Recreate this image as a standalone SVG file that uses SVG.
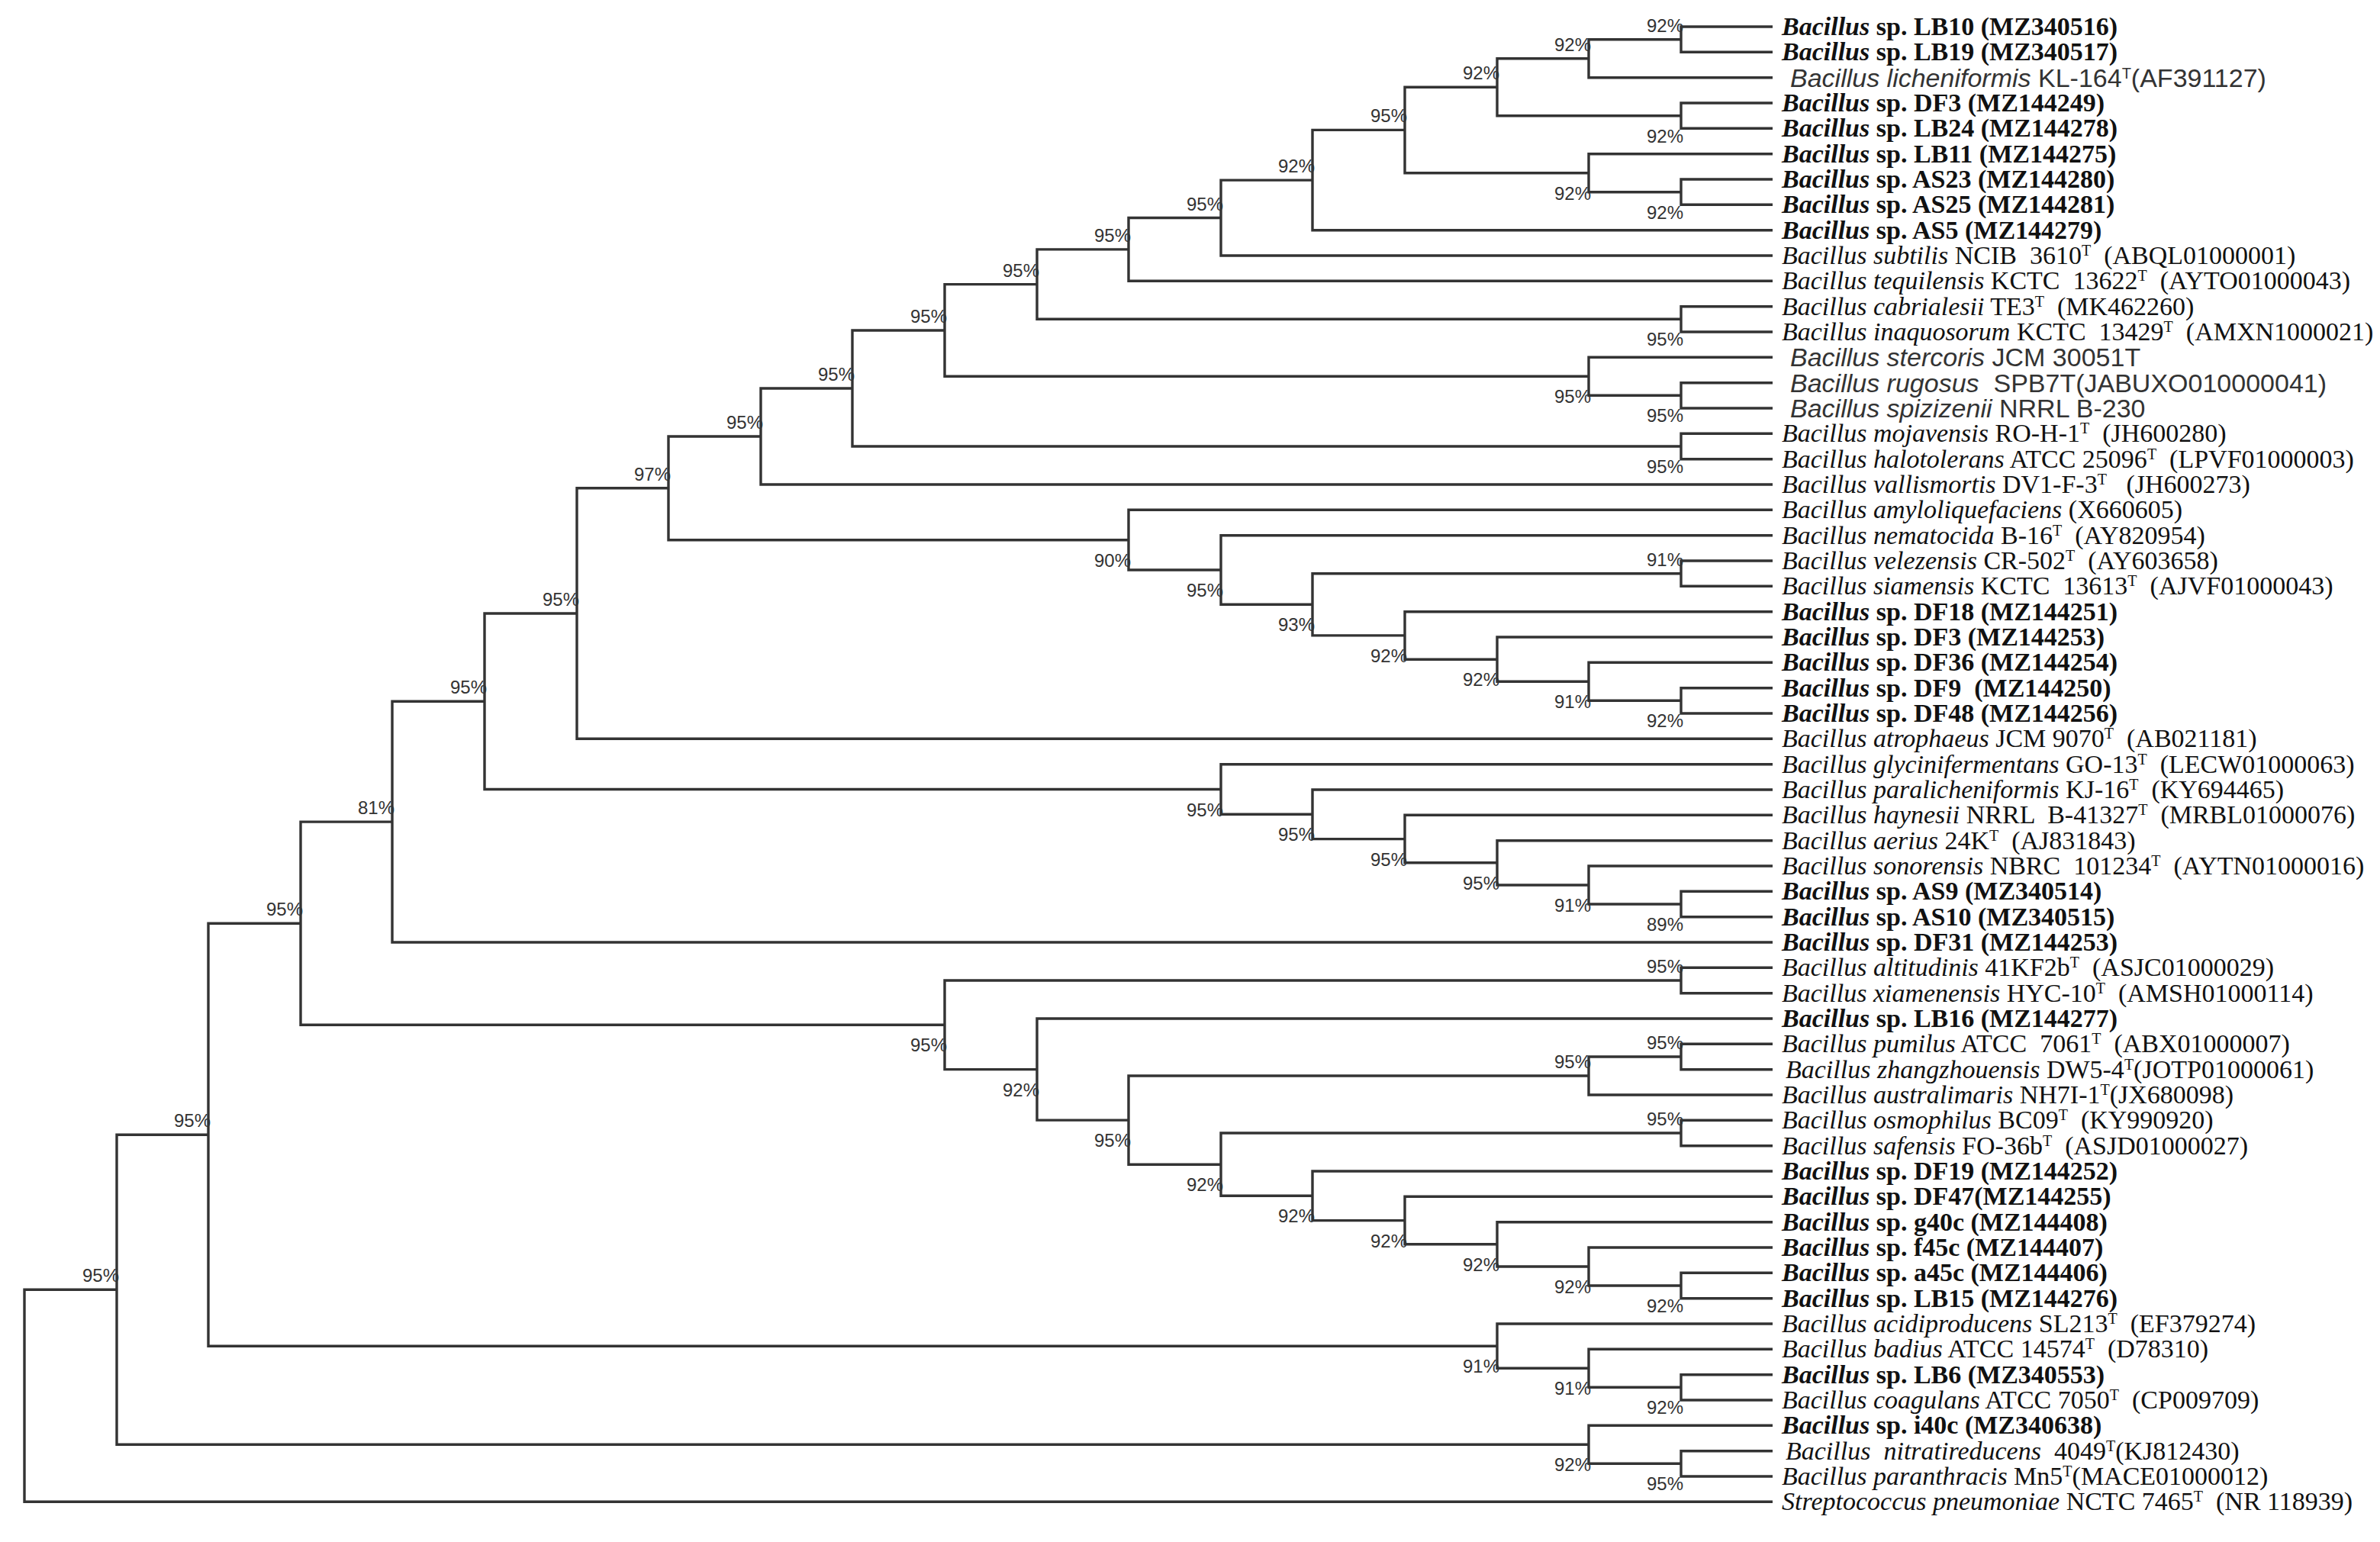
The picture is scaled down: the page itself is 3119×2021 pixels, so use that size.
<svg xmlns="http://www.w3.org/2000/svg" width="3119" height="2021" viewBox="0 0 3119 2021">
<style>
.br{fill:none;stroke:#333;stroke-width:3.4;stroke-linejoin:miter}
.bs{font-family:"Liberation Sans","DejaVu Sans",sans-serif;font-size:24px;fill:#333;text-anchor:end}
.t{font-family:"Liberation Serif","Times New Roman",serif;font-size:34px;fill:#111;white-space:pre}
.bd{font-weight:bold}
.it{font-style:italic}
.sn{font-family:"Liberation Sans",Arial,sans-serif;font-size:34px;fill:#333}
.sup{font-size:20px}
</style>
<rect width="3119" height="2021" fill="#fff"/>
<g id="connectors" class="br">
<path d="M2323 35H2203V68.3H2323"/>
<path d="M2203 51.7H2082V101.7H2323"/>
<path d="M2323 135H2203V168.3H2323"/>
<path d="M2082 76.7H1962V151.7H2203"/>
<path d="M2323 235H2203V268.3H2323"/>
<path d="M2323 201.7H2082V251.7H2203"/>
<path d="M1962 114.2H1841V226.7H2082"/>
<path d="M1841 170.4H1720V301.7H2323"/>
<path d="M1720 236.1H1600V335H2323"/>
<path d="M1600 285.5H1479V368.3H2323"/>
<path d="M2323 401.7H2203V435H2323"/>
<path d="M1479 326.9H1359V418.3H2203"/>
<path d="M2323 501.7H2203V535H2323"/>
<path d="M2323 468.3H2082V518.3H2203"/>
<path d="M1359 372.6H1238V493.3H2082"/>
<path d="M2323 568.3H2203V601.7H2323"/>
<path d="M1238 433H1117V585H2203"/>
<path d="M1117 509H997V635H2323"/>
<path d="M2323 735H2203V768.3H2323"/>
<path d="M2323 901.7H2203V935H2323"/>
<path d="M2323 868.3H2082V918.3H2203"/>
<path d="M2323 835H1962V893.3H2082"/>
<path d="M2323 801.7H1841V864.2H1962"/>
<path d="M2203 751.7H1720V832.9H1841"/>
<path d="M2323 701.7H1600V792.3H1720"/>
<path d="M2323 668.3H1479V747H1600"/>
<path d="M997 572H876V707.7H1479"/>
<path d="M876 639.8H756V968.3H2323"/>
<path d="M2323 1168.3H2203V1201.7H2323"/>
<path d="M2323 1135H2082V1185H2203"/>
<path d="M2323 1101.7H1962V1160H2082"/>
<path d="M2323 1068.3H1841V1130.8H1962"/>
<path d="M2323 1035H1720V1099.6H1841"/>
<path d="M2323 1001.7H1600V1067.3H1720"/>
<path d="M756 804H635V1034.5H1600"/>
<path d="M635 919.2H514V1235H2323"/>
<path d="M2323 1268.3H2203V1301.7H2323"/>
<path d="M2323 1368.3H2203V1401.7H2323"/>
<path d="M2203 1385H2082V1435H2323"/>
<path d="M2323 1468.3H2203V1501.7H2323"/>
<path d="M2323 1668.3H2203V1701.7H2323"/>
<path d="M2323 1635H2082V1685H2203"/>
<path d="M2323 1601.7H1962V1660H2082"/>
<path d="M2323 1568.3H1841V1630.8H1962"/>
<path d="M2323 1535H1720V1599.6H1841"/>
<path d="M2203 1485H1600V1567.3H1720"/>
<path d="M2082 1410H1479V1526.2H1600"/>
<path d="M2323 1335H1359V1468.1H1479"/>
<path d="M2203 1285H1238V1401.6H1359"/>
<path d="M514 1077.1H394V1343.3H1238"/>
<path d="M2323 1801.7H2203V1835H2323"/>
<path d="M2323 1768.3H2082V1818.3H2203"/>
<path d="M2323 1735H1962V1793.3H2082"/>
<path d="M394 1210.2H273V1764.2H1962"/>
<path d="M2323 1901.7H2203V1935H2323"/>
<path d="M2323 1868.3H2082V1918.3H2203"/>
<path d="M273 1487.2H153V1893.3H2082"/>
<path d="M153 1690.3H32V1968.3H2323"/>
</g>
<g id="bootstrap" class="bs">
<g id="n-A"><text x="2206" y="41.7">92%</text></g>
<g id="n-B"><text x="2085" y="66.7">92%</text></g>
<g id="n-D"><text x="1965" y="104.2">92%</text></g>
<g id="n-E"><text x="1844" y="160.4">95%</text></g>
<g id="n-C"><text x="2206" y="186.7">92%</text></g>
<g id="n-H"><text x="1723" y="226.1">92%</text></g>
<g id="n-F"><text x="2085" y="261.7">92%</text></g>
<g id="n-G"><text x="2206" y="286.7">92%</text></g>
<g id="n-I"><text x="1603" y="275.5">95%</text></g>
<g id="n-J"><text x="1482" y="316.9">95%</text></g>
<g id="n-CI"><text x="2206" y="453.3">95%</text></g>
<g id="n-K"><text x="1362" y="362.6">95%</text></g>
<g id="n-ST"><text x="2085" y="528.3">95%</text></g>
<g id="n-RS"><text x="2206" y="553.3">95%</text></g>
<g id="n-L"><text x="1241" y="423">95%</text></g>
<g id="n-MH"><text x="2206" y="620">95%</text></g>
<g id="n-M"><text x="1120" y="499">95%</text></g>
<g id="n-N"><text x="1000" y="562">95%</text></g>
<g id="n-O"><text x="879" y="629.8">97%</text></g>
<g id="n-U"><text x="1482" y="742.7">90%</text></g>
<g id="n-V"><text x="1603" y="782">95%</text></g>
<g id="n-Y"><text x="2206" y="741.7">91%</text></g>
<g id="n-X"><text x="1723" y="827.3">93%</text></g>
<g id="n-Z"><text x="1844" y="867.9">92%</text></g>
<g id="n-AA"><text x="1965" y="899.2">92%</text></g>
<g id="n-AB"><text x="2085" y="928.3">91%</text></g>
<g id="n-AC"><text x="2206" y="953.3">92%</text></g>
<g id="n-P"><text x="759" y="794">95%</text></g>
<g id="n-BA"><text x="1603" y="1069.5">95%</text></g>
<g id="n-BB"><text x="1723" y="1102.3">95%</text></g>
<g id="n-BC"><text x="1844" y="1134.6">95%</text></g>
<g id="n-BD"><text x="1965" y="1165.8">95%</text></g>
<g id="n-BE"><text x="2085" y="1195">91%</text></g>
<g id="n-BF"><text x="2206" y="1220">89%</text></g>
<g id="n-Q"><text x="638" y="909.2">95%</text></g>
<g id="n-R"><text x="517" y="1067.1">81%</text></g>
<g id="n-AX"><text x="2206" y="1275">95%</text></g>
<g id="n-CA"><text x="1241" y="1378.3">95%</text></g>
<g id="n-CB"><text x="1362" y="1436.6">92%</text></g>
<g id="n-CC"><text x="1482" y="1503.1">95%</text></g>
<g id="n-PZ"><text x="2206" y="1375">95%</text></g>
<g id="n-CD"><text x="2085" y="1400">95%</text></g>
<g id="n-OS"><text x="2206" y="1475">95%</text></g>
<g id="n-CF"><text x="1603" y="1561.2">92%</text></g>
<g id="n-DA"><text x="1723" y="1602.3">92%</text></g>
<g id="n-DB"><text x="1844" y="1634.6">92%</text></g>
<g id="n-DC"><text x="1965" y="1665.8">92%</text></g>
<g id="n-DD"><text x="2085" y="1695">92%</text></g>
<g id="n-DE"><text x="2206" y="1720">92%</text></g>
<g id="n-S"><text x="397" y="1200.2">95%</text></g>
<g id="n-EA"><text x="1965" y="1799.2">91%</text></g>
<g id="n-EB"><text x="2085" y="1828.3">91%</text></g>
<g id="n-EC"><text x="2206" y="1853.3">92%</text></g>
<g id="n-T"><text x="276" y="1477.2">95%</text></g>
<g id="n-FA"><text x="2085" y="1928.3">92%</text></g>
<g id="n-FB"><text x="2206" y="1953.3">95%</text></g>
<g id="n-K1"><text x="156" y="1680.3">95%</text></g>
</g>
<g id="leaves">
<g id="leaf-1"><text class="t bd" x="2335" y="46"><tspan class="it">Bacillus</tspan> sp. LB10 (MZ340516)</text></g>
<g id="leaf-2"><text class="t bd" x="2335" y="79.3"><tspan class="it">Bacillus</tspan> sp. LB19 (MZ340517)</text></g>
<g id="leaf-3"><text class="t sn" x="2346" y="113.7"><tspan class="it">Bacillus licheniformis</tspan> KL-164<tspan class="sup" dy="-11">T</tspan><tspan dy="11">(AF391127)</tspan></text></g>
<g id="leaf-4"><text class="t bd" x="2335" y="146"><tspan class="it">Bacillus</tspan> sp. DF3 (MZ144249)</text></g>
<g id="leaf-5"><text class="t bd" x="2335" y="179.3"><tspan class="it">Bacillus</tspan> sp. LB24 (MZ144278)</text></g>
<g id="leaf-6"><text class="t bd" x="2335" y="212.7"><tspan class="it">Bacillus</tspan> sp. LB11 (MZ144275)</text></g>
<g id="leaf-7"><text class="t bd" x="2335" y="246"><tspan class="it">Bacillus</tspan> sp. AS23 (MZ144280)</text></g>
<g id="leaf-8"><text class="t bd" x="2335" y="279.3"><tspan class="it">Bacillus</tspan> sp. AS25 (MZ144281)</text></g>
<g id="leaf-9"><text class="t bd" x="2335" y="312.7"><tspan class="it">Bacillus</tspan> sp. AS5 (MZ144279)</text></g>
<g id="leaf-10"><text class="t" x="2335" y="346"><tspan class="it">Bacillus subtilis</tspan> NCIB  3610<tspan class="sup" dy="-11">T</tspan><tspan dy="11">  (ABQL01000001)</tspan></text></g>
<g id="leaf-11"><text class="t" x="2335" y="379.3"><tspan class="it">Bacillus tequilensis</tspan> KCTC  13622<tspan class="sup" dy="-11">T</tspan><tspan dy="11">  (AYTO01000043)</tspan></text></g>
<g id="leaf-12"><text class="t" x="2335" y="412.7"><tspan class="it">Bacillus cabrialesii</tspan> TE3<tspan class="sup" dy="-11">T</tspan><tspan dy="11">  (MK462260)</tspan></text></g>
<g id="leaf-13"><text class="t" x="2335" y="446"><tspan class="it">Bacillus inaquosorum</tspan> KCTC  13429<tspan class="sup" dy="-11">T</tspan><tspan dy="11">  (AMXN1000021)</tspan></text></g>
<g id="leaf-14"><text class="t sn" x="2346" y="480.3"><tspan class="it">Bacillus stercoris</tspan> JCM 30051T</text></g>
<g id="leaf-15"><text class="t sn" x="2346" y="513.7"><tspan class="it">Bacillus rugosus</tspan>  SPB7T(JABUXO010000041)</text></g>
<g id="leaf-16"><text class="t sn" x="2346" y="547"><tspan class="it">Bacillus spizizenii</tspan> NRRL B-230</text></g>
<g id="leaf-17"><text class="t" x="2335" y="579.3"><tspan class="it">Bacillus mojavensis</tspan> RO-H-1<tspan class="sup" dy="-11">T</tspan><tspan dy="11">  (JH600280)</tspan></text></g>
<g id="leaf-18"><text class="t" x="2335" y="612.7"><tspan class="it">Bacillus halotolerans</tspan> ATCC 25096<tspan class="sup" dy="-11">T</tspan><tspan dy="11">  (LPVF01000003)</tspan></text></g>
<g id="leaf-19"><text class="t" x="2335" y="646"><tspan class="it">Bacillus vallismortis</tspan> DV1-F-3<tspan class="sup" dy="-11">T</tspan><tspan dy="11">   (JH600273)</tspan></text></g>
<g id="leaf-20"><text class="t" x="2335" y="679.3"><tspan class="it">Bacillus amyloliquefaciens</tspan> (X660605)</text></g>
<g id="leaf-21"><text class="t" x="2335" y="712.7"><tspan class="it">Bacillus nematocida</tspan> B-16<tspan class="sup" dy="-11">T</tspan><tspan dy="11">  (AY820954)</tspan></text></g>
<g id="leaf-22"><text class="t" x="2335" y="746"><tspan class="it">Bacillus velezensis</tspan> CR-502<tspan class="sup" dy="-11">T</tspan><tspan dy="11">  (AY603658)</tspan></text></g>
<g id="leaf-23"><text class="t" x="2335" y="779.3"><tspan class="it">Bacillus siamensis</tspan> KCTC  13613<tspan class="sup" dy="-11">T</tspan><tspan dy="11">  (AJVF01000043)</tspan></text></g>
<g id="leaf-24"><text class="t bd" x="2335" y="812.7"><tspan class="it">Bacillus</tspan> sp. DF18 (MZ144251)</text></g>
<g id="leaf-25"><text class="t bd" x="2335" y="846"><tspan class="it">Bacillus</tspan> sp. DF3 (MZ144253)</text></g>
<g id="leaf-26"><text class="t bd" x="2335" y="879.3"><tspan class="it">Bacillus</tspan> sp. DF36 (MZ144254)</text></g>
<g id="leaf-27"><text class="t bd" x="2335" y="912.7"><tspan class="it">Bacillus</tspan> sp. DF9  (MZ144250)</text></g>
<g id="leaf-28"><text class="t bd" x="2335" y="946"><tspan class="it">Bacillus</tspan> sp. DF48 (MZ144256)</text></g>
<g id="leaf-29"><text class="t" x="2335" y="979.3"><tspan class="it">Bacillus atrophaeus</tspan> JCM 9070<tspan class="sup" dy="-11">T</tspan><tspan dy="11">  (AB021181)</tspan></text></g>
<g id="leaf-30"><text class="t" x="2335" y="1012.7"><tspan class="it">Bacillus glycinifermentans</tspan> GO-13<tspan class="sup" dy="-11">T</tspan><tspan dy="11">  (LECW01000063)</tspan></text></g>
<g id="leaf-31"><text class="t" x="2335" y="1046"><tspan class="it">Bacillus paralicheniformis</tspan> KJ-16<tspan class="sup" dy="-11">T</tspan><tspan dy="11">  (KY694465)</tspan></text></g>
<g id="leaf-32"><text class="t" x="2335" y="1079.3"><tspan class="it">Bacillus haynesii</tspan> NRRL  B-41327<tspan class="sup" dy="-11">T</tspan><tspan dy="11">  (MRBL01000076)</tspan></text></g>
<g id="leaf-33"><text class="t" x="2335" y="1112.7"><tspan class="it">Bacillus aerius</tspan> 24K<tspan class="sup" dy="-11">T</tspan><tspan dy="11">  (AJ831843)</tspan></text></g>
<g id="leaf-34"><text class="t" x="2335" y="1146"><tspan class="it">Bacillus sonorensis</tspan> NBRC  101234<tspan class="sup" dy="-11">T</tspan><tspan dy="11">  (AYTN01000016)</tspan></text></g>
<g id="leaf-35"><text class="t bd" x="2335" y="1179.3"><tspan class="it">Bacillus</tspan> sp. AS9 (MZ340514)</text></g>
<g id="leaf-36"><text class="t bd" x="2335" y="1212.7"><tspan class="it">Bacillus</tspan> sp. AS10 (MZ340515)</text></g>
<g id="leaf-37"><text class="t bd" x="2335" y="1246"><tspan class="it">Bacillus</tspan> sp. DF31 (MZ144253)</text></g>
<g id="leaf-38"><text class="t" x="2335" y="1279.3"><tspan class="it">Bacillus altitudinis</tspan> 41KF2b<tspan class="sup" dy="-11">T</tspan><tspan dy="11">  (ASJC01000029)</tspan></text></g>
<g id="leaf-39"><text class="t" x="2335" y="1312.7"><tspan class="it">Bacillus xiamenensis</tspan> HYC-10<tspan class="sup" dy="-11">T</tspan><tspan dy="11">  (AMSH01000114)</tspan></text></g>
<g id="leaf-40"><text class="t bd" x="2335" y="1346"><tspan class="it">Bacillus</tspan> sp. LB16 (MZ144277)</text></g>
<g id="leaf-41"><text class="t" x="2335" y="1379.3"><tspan class="it">Bacillus pumilus</tspan> ATCC  7061<tspan class="sup" dy="-11">T</tspan><tspan dy="11">  (ABX01000007)</tspan></text></g>
<g id="leaf-42"><text class="t" x="2340" y="1412.7"><tspan class="it">Bacillus zhangzhouensis</tspan> DW5-4<tspan class="sup" dy="-11">T</tspan><tspan dy="11">(JOTP01000061)</tspan></text></g>
<g id="leaf-43"><text class="t" x="2335" y="1446"><tspan class="it">Bacillus australimaris</tspan> NH7I-1<tspan class="sup" dy="-11">T</tspan><tspan dy="11">(JX680098)</tspan></text></g>
<g id="leaf-44"><text class="t" x="2335" y="1479.3"><tspan class="it">Bacillus osmophilus</tspan> BC09<tspan class="sup" dy="-11">T</tspan><tspan dy="11">  (KY990920)</tspan></text></g>
<g id="leaf-45"><text class="t" x="2335" y="1512.7"><tspan class="it">Bacillus safensis</tspan> FO-36b<tspan class="sup" dy="-11">T</tspan><tspan dy="11">  (ASJD01000027)</tspan></text></g>
<g id="leaf-46"><text class="t bd" x="2335" y="1546"><tspan class="it">Bacillus</tspan> sp. DF19 (MZ144252)</text></g>
<g id="leaf-47"><text class="t bd" x="2335" y="1579.3"><tspan class="it">Bacillus</tspan> sp. DF47(MZ144255)</text></g>
<g id="leaf-48"><text class="t bd" x="2335" y="1612.7"><tspan class="it">Bacillus</tspan> sp. g40c (MZ144408)</text></g>
<g id="leaf-49"><text class="t bd" x="2335" y="1646"><tspan class="it">Bacillus</tspan> sp. f45c (MZ144407)</text></g>
<g id="leaf-50"><text class="t bd" x="2335" y="1679.3"><tspan class="it">Bacillus</tspan> sp. a45c (MZ144406)</text></g>
<g id="leaf-51"><text class="t bd" x="2335" y="1712.7"><tspan class="it">Bacillus</tspan> sp. LB15 (MZ144276)</text></g>
<g id="leaf-52"><text class="t" x="2335" y="1746"><tspan class="it">Bacillus acidiproducens</tspan> SL213<tspan class="sup" dy="-11">T</tspan><tspan dy="11">  (EF379274)</tspan></text></g>
<g id="leaf-53"><text class="t" x="2335" y="1779.3"><tspan class="it">Bacillus badius</tspan> ATCC 14574<tspan class="sup" dy="-11">T</tspan><tspan dy="11">  (D78310)</tspan></text></g>
<g id="leaf-54"><text class="t bd" x="2335" y="1812.7"><tspan class="it">Bacillus</tspan> sp. LB6 (MZ340553)</text></g>
<g id="leaf-55"><text class="t" x="2335" y="1846"><tspan class="it">Bacillus coagulans</tspan> ATCC 7050<tspan class="sup" dy="-11">T</tspan><tspan dy="11">  (CP009709)</tspan></text></g>
<g id="leaf-56"><text class="t bd" x="2335" y="1879.3"><tspan class="it">Bacillus</tspan> sp. i40c (MZ340638)</text></g>
<g id="leaf-57"><text class="t" x="2340" y="1912.7"><tspan class="it">Bacillus  nitratireducens</tspan>  4049<tspan class="sup" dy="-11">T</tspan><tspan dy="11">(KJ812430)</tspan></text></g>
<g id="leaf-58"><text class="t" x="2335" y="1946"><tspan class="it">Bacillus paranthracis</tspan> Mn5<tspan class="sup" dy="-11">T</tspan><tspan dy="11">(MACE01000012)</tspan></text></g>
<g id="leaf-59"><text class="t" x="2335" y="1979.3"><tspan class="it">Streptococcus pneumoniae</tspan> NCTC 7465<tspan class="sup" dy="-11">T</tspan><tspan dy="11">  (NR 118939)</tspan></text></g>
</g>
</svg>
